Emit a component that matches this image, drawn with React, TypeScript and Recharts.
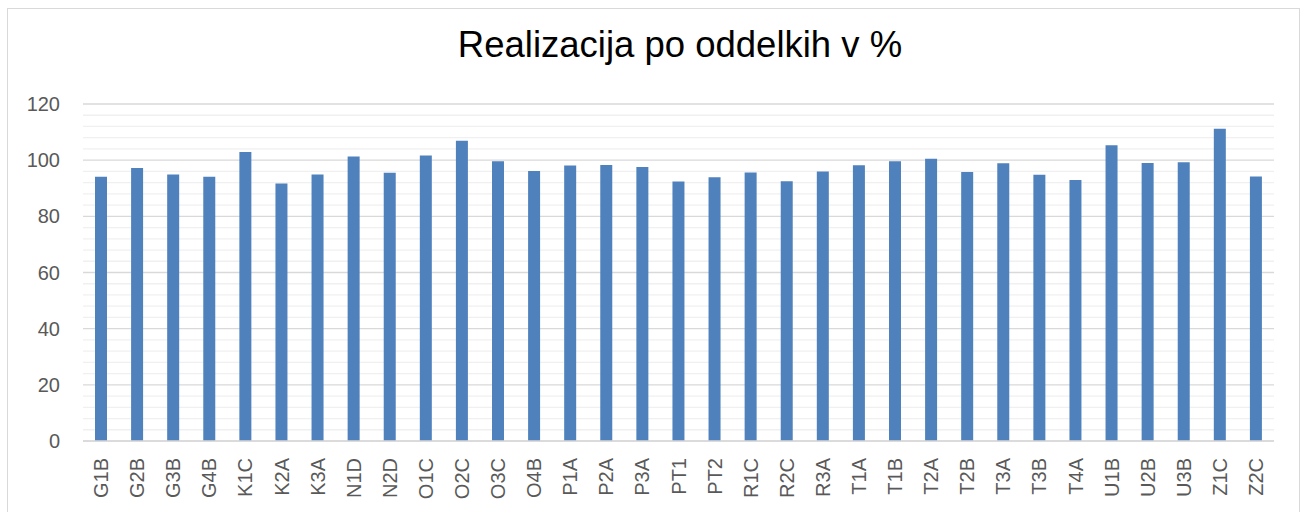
import React from "react";
import { BarChart, Bar, XAxis, YAxis, CartesianGrid } from "recharts";

const categories = ["G1B","G2B","G3B","G4B","K1C","K2A","K3A","N1D","N2D","O1C","O2C","O3C","O4B","P1A","P2A","P3A","PT1","PT2","R1C","R2C","R3A","T1A","T1B","T2A","T2B","T3A","T3B","T4A","U1B","U2B","U3B","Z1C","Z2C"];
const values = [94.1,97.2,94.9,94.1,102.9,91.7,94.9,101.3,95.5,101.7,106.9,99.6,96.1,98.1,98.3,97.6,92.4,93.9,95.6,92.5,96.0,98.2,99.6,100.5,95.8,98.9,94.8,92.9,105.3,99.0,99.3,111.2,94.2];
const majorStep = 20;
const gridTicks = [0,4,8,12,16,20,24,28,32,36,40,44,48,52,56,60,64,68,72,76,80,84,88,92,96,100,104,108,112,116,120];
const title = "Realizacija po oddelkih v %";

const data = categories.map((c, i) => ({ name: c, value: values[i] }));

const FONT = '"Liberation Sans", Arial, sans-serif';

const XTick = (props: any) => {
  const { x, y, payload } = props;
  return (
    <g transform={`translate(${x},${y})`}>
      <text
        transform="rotate(-90)"
        textAnchor="end"
        dominantBaseline="central"
        fill="#595959"
        fontSize={20}
        fontFamily={FONT}
        x={-15}
        y={0}
      >
        {payload.value}
      </text>
    </g>
  );
};

const YTick = (props: any) => {
  const { x, y, payload } = props;
  if (payload.value % majorStep !== 0) return <g />;
  return (
    <text x={x} y={y} textAnchor="end" dominantBaseline="central" fill="#595959" fontSize={20} fontFamily={FONT}>
      {payload.value}
    </text>
  );
};

const GridLine = (props: any) => {
  const { x1, x2, y1, y2, index } = props;
  const major = index % 5 === 0;
  return (
    <line
      x1={x1}
      x2={x2}
      y1={y1}
      y2={y2}
      stroke={major ? "#d9d9d9" : "#f0f0f0"}
      strokeWidth={1.3}
      fill="none"
    />
  );
};

export default function App() {
  return (
    <div style={{ position: "fixed", left: 0, top: 0, width: 1304, height: 512, background: "#fff", fontFamily: FONT }}>
      <div style={{ position: "absolute", left: 7, top: 8, width: 1293, height: 510, border: "1px solid #d9d9d9", boxSizing: "border-box" }} />
      <div style={{ position: "absolute", left: 0, top: 27, width: 1360, textAlign: "center", fontSize: 36.5, lineHeight: "36px", color: "#000", whiteSpace: "nowrap" }}>
        {title}
      </div>
      <div style={{ position: "absolute", left: 0, top: 0 }}>
        <BarChart width={1304} height={512} data={data} margin={{ top: 104, right: 30, bottom: 0, left: 0 }}>
          <CartesianGrid vertical={false} horizontal={(p: any) => <GridLine {...p} />} />
          <XAxis
            dataKey="name"
            interval={0}
            height={71}
            tickLine={false}
            axisLine={{ stroke: "#d9d9d9", strokeWidth: 1.3 }}
            tick={<XTick />}
            tickSize={0}
          />
          <YAxis
            domain={[0, 120]}
            ticks={gridTicks}
            interval={0}
            width={83}
            axisLine={false}
            tickLine={false}
            tickSize={0}
            tickMargin={23}
            tick={<YTick />}
          />
          <Bar dataKey="value" fill="#4f81bd" barSize={12} isAnimationActive={false} />
        </BarChart>
      </div>
    </div>
  );
}
